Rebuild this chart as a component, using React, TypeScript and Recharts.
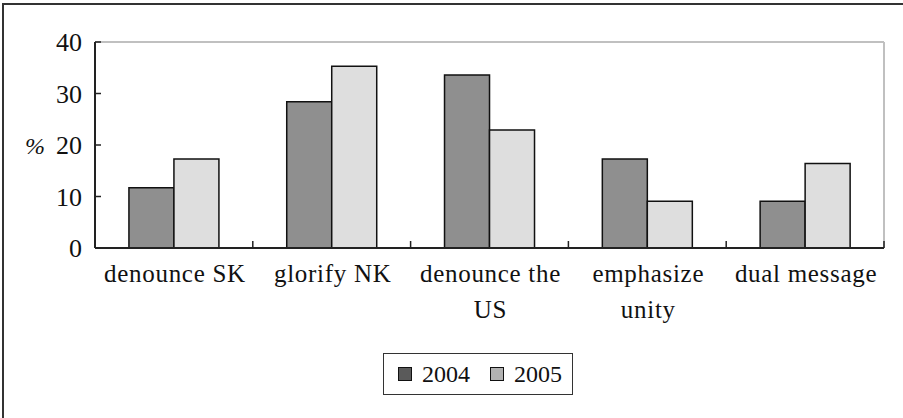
import React from 'react';
import { BarChart, Bar, XAxis, YAxis, CartesianGrid, Legend } from 'recharts';

const categories = ['denounce SK', 'glorify NK', 'denounce the US', 'emphasize unity', 'dual message'];
const y2004 = [11.7, 28.4, 33.6, 17.3, 9.1];
const y2005 = [17.3, 35.3, 22.9, 9.1, 16.4];
const yTicks = [0, 10, 20, 30, 40];
const seriesNames = ['2004', '2005'];

const data = categories.map((name, i) => ({ name, y2004: y2004[i], y2005: y2005[i] }));

const FONT = "Liberation Serif, DejaVu Serif, serif";

// break long labels into lines of max ~12 chars
function wrap(label: string, max = 12) {
  const lines: string[] = [];
  let cur = '';
  label.split(' ').forEach((w) => {
    const next = cur ? cur + ' ' + w : w;
    if (next.length > max && cur) {
      lines.push(cur);
      cur = w;
    } else {
      cur = next;
    }
  });
  if (cur) lines.push(cur);
  return lines;
}

const CategoryTick = (props: any) => {
  const { x, y, payload, width, visibleTicksCount } = props;
  const band = width && visibleTicksCount ? width / visibleTicksCount : 157.8;
  const lines = wrap(payload.value);
  return (
    <g>
      {/* excel style tick at the right edge of each category */}
      <line x1={x + band / 2} x2={x + band / 2} y1={y - 7} y2={y} stroke="#222" strokeWidth={1.5} />
      <text
        x={x + 1}
        y={y + 34}
        textAnchor="middle"
        style={{ fontFamily: FONT, letterSpacing: 0.7 }}
        fontSize={25}
        fill="#111"
      >
        {lines.map((l, i) => (
          <tspan key={i} x={x + 1} dy={i === 0 ? 0 : 36}>{l}</tspan>
        ))}
      </text>
    </g>
  );
};

const swatch = ['#5a5a5a', '#b2b2b2'];

const LegendBox = () => (
  <div
    style={{
      boxSizing: 'border-box',
      width: 190,
      height: 42,
      border: '1px solid #333',
      display: 'flex',
      alignItems: 'center',
      paddingLeft: 14,
      fontFamily: FONT,
      fontSize: 24,
      color: '#111',
    }}
  >
    {seriesNames.map((s, i) => (
      <div key={s} style={{ display: 'flex', alignItems: 'center', marginRight: 20 }}>
        <span
          style={{
            display: 'inline-block',
            boxSizing: 'border-box',
            width: 14,
            height: 14,
            background: swatch[i],
            border: '1.5px solid #111',
            marginRight: 10,
          }}
        />
        <span>{s}</span>
      </div>
    ))}
  </div>
);

export default function App() {
  return (
    <div style={{ position: 'absolute', left: 0, top: 0, width: 903, height: 418, background: '#fff', fontFamily: FONT }}>
      <div
        style={{
          position: 'absolute',
          left: 2,
          top: 3,
          width: 901,
          height: 415,
          borderTop: '2px solid #333',
          borderLeft: '2px solid #333',
        }}
      />
      <BarChart
        width={903}
        height={418}
        data={data}
        margin={{ top: 42, right: 19, left: 0, bottom: 0 }}
        barCategoryGap="21.5%"
        barGap={0}
        style={{ position: 'absolute', left: 0, top: 0, fontFamily: FONT }}
      >
        <CartesianGrid
          stroke="#c0c0c0"
          strokeWidth={2}
          horizontalCoordinatesGenerator={({ offset }: any) => [offset.top]}
          verticalCoordinatesGenerator={({ offset }: any) => [offset.left + offset.width]}
        />
        <XAxis
          dataKey="name"
          height={128}
          axisLine={{ stroke: '#222', strokeWidth: 2 }}
          tickLine={false}
          tickSize={0}
          tickMargin={0}
          interval={0}
          tick={<CategoryTick />}
        />
        <YAxis
          width={95}
          domain={[0, 40]}
          ticks={yTicks}
          interval={0}
          axisLine={{ stroke: '#222', strokeWidth: 2 }}
          tickLine={{ stroke: '#222', strokeWidth: 1.5 }}
          tickSize={-6}
          tickMargin={19}
          tick={{ fontFamily: FONT, fontSize: 26, fill: '#111' }}
          label={{
            value: '%',
            position: 'insideLeft',
            offset: 25,
            fontFamily: FONT,
            fontSize: 24,
            fontStyle: 'italic',
            fill: '#111',
          }}
        />
        <Legend
          verticalAlign="bottom"
          content={() => <LegendBox />}
          wrapperStyle={{ left: 383, top: 353, width: 190, height: 42, bottom: 'auto' }}
        />
        <Bar dataKey="y2004" name="2004" fill="#8f8f8f" stroke="#111" strokeWidth={1.5} isAnimationActive={false} />
        <Bar dataKey="y2005" name="2005" fill="#dedede" stroke="#111" strokeWidth={1.5} isAnimationActive={false} />
      </BarChart>
    </div>
  );
}
